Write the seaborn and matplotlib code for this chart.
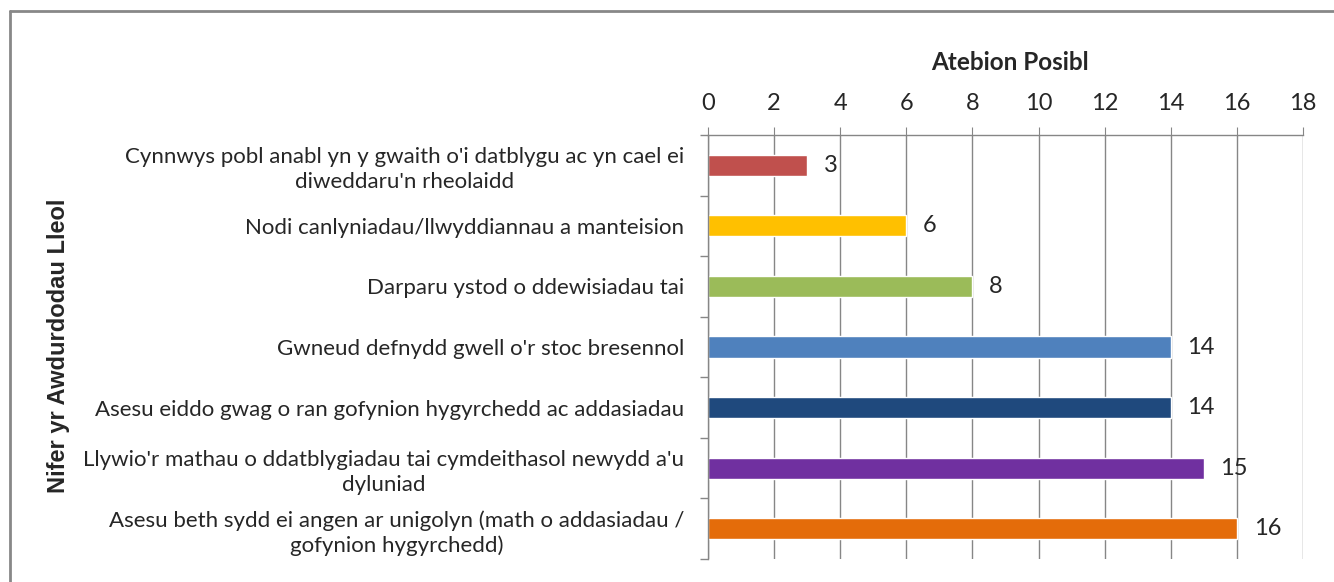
import matplotlib
matplotlib.use("Agg")
import matplotlib.pyplot as plt
from matplotlib.lines import Line2D
import seaborn as sns
import pandas as pd

# --- data ---
labels = [
    "Cynnwys pobl anabl yn y gwaith o'i datblygu ac yn cael ei\ndiweddaru'n rheolaidd",
    "Nodi canlyniadau/llwyddiannau a manteision",
    "Darparu ystod o ddewisiadau tai",
    "Gwneud defnydd gwell o'r stoc bresennol",
    "Asesu eiddo gwag o ran gofynion hygyrchedd ac addasiadau",
    "Llywio'r mathau o ddatblygiadau tai cymdeithasol newydd a'u\ndyluniad",
    "Asesu beth sydd ei angen ar unigolyn (math o addasiadau /\ngofynion hygyrchedd)",
]
counts = [3, 6, 8, 14, 14, 15, 16]
colours = ["#C0504D", "#FFC000", "#9BBB59", "#4F81BD", "#1F497D", "#7030A0", "#E46C0A"]
x_ticks = [0, 2, 4, 6, 8, 10, 12, 14, 16, 18]

df = pd.DataFrame({"label": labels, "count": counts})

sns.set_style("white")
plt.rcParams['font.family'] = ['Lato', 'DejaVu Sans']

W, H = 1334, 582
fig = plt.figure(figsize=(W / 100, H / 100), dpi=100)
ax = fig.add_axes([708 / W, 1 - 559 / H, 595 / W, 424 / H])

sns.barplot(data=df, x="count", y="label", hue="label", palette=colours,
            legend=False, width=0.35, orient="h", ax=ax, saturation=1)

ax.set_xlim(0, 18)
ax.set_ylim(6.5, -0.5)
ax.set_xticks(x_ticks)
ax.xaxis.tick_top()
ax.tick_params(axis="x", direction="out", length=6, color="#868686",
               labelsize=17, pad=9, top=True, bottom=False)
ax.grid(axis="x", color="#868686", linewidth=1)
ax.set_axisbelow(True)

# category boundaries as minor ticks on the left
ax.set_yticks(range(len(labels)))
ax.set_yticklabels(labels)
ax.set_yticks([i - 0.5 for i in range(len(labels) + 1)], minor=True)
ax.tick_params(axis="y", which="major", length=0, labelsize=16, pad=17)
ax.tick_params(axis="y", which="minor", left=True, length=6, width=1,
               color="#868686", direction="out")
for t in ax.get_yticklabels():
    t.set_multialignment("center")
    t.set_linespacing(1.3)

for s in ["right", "bottom"]:
    ax.spines[s].set_visible(False)
for s in ["top", "left"]:
    ax.spines[s].set_color("#868686")
    ax.spines[s].set_linewidth(1)

ax.set_xlabel("")
ax.set_ylabel("")
fig.text(1010 / W, 1 - 62 / H, "Atebion Posibl", ha="center", va="center",
         fontsize=17.5, fontweight="bold")
fig.text(59 / W, 1 - 346 / H, "Nifer yr Awdurdodau Lleol", rotation=90,
         ha="center", va="center", fontsize=17, fontweight="bold",
         family="Liberation Sans")

for i, v in enumerate(counts):
    ax.annotate(str(v), (v, i), xytext=(12, 0), textcoords="offset points",
                ha="left", va="center", fontsize=17)

# chart border (top and left visible in the crop)
fig.add_artist(Line2D([9.5 / W, 9.5 / W], [0, 1 - 11 / H],
                      transform=fig.transFigure, color="#888888", linewidth=2))
fig.add_artist(Line2D([9.5 / W, 1], [1 - 11 / H, 1 - 11 / H],
                      transform=fig.transFigure, color="#888888", linewidth=2))

fig.savefig("out.png", dpi=100)
